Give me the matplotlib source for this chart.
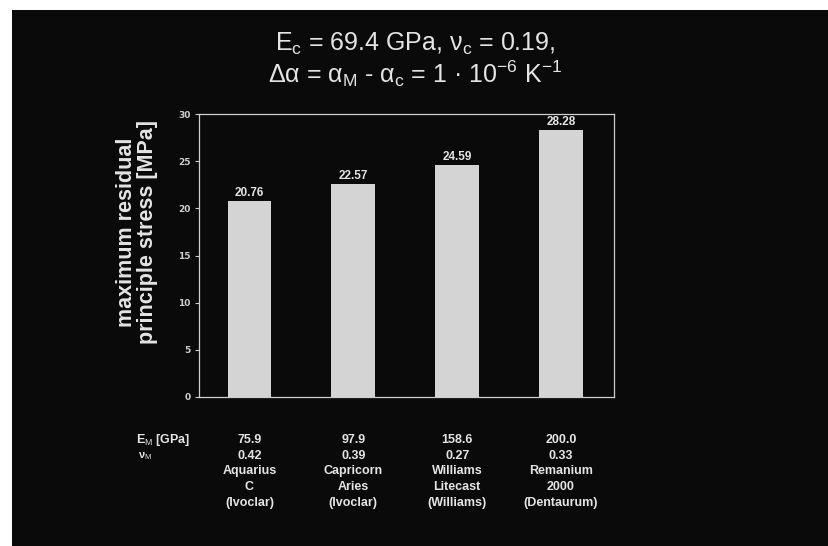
import numpy as np
import matplotlib
matplotlib.use('Agg')
import matplotlib.pyplot as plt
from matplotlib.patches import Rectangle

plt.rcParams['mathtext.fontset'] = 'custom'
plt.rcParams['mathtext.rm'] = 'Liberation Sans'
plt.rcParams['mathtext.it'] = 'Liberation Sans:italic'
plt.rcParams['mathtext.bf'] = 'Liberation Sans:bold'

# Data
alloys = ['Aquarius\nC\n(Ivoclar)', 'Capricorn\nAries\n(Ivoclar)',
          'Williams\nLitecast\n(Williams)', 'Remanium\n2000\n(Dentaurum)']
E_M = ['75.9', '97.9', '158.6', '200.0']
nu_M = ['0.42', '0.39', '0.27', '0.33']
stress = [20.76, 22.57, 24.59, 28.28]
yticks = [0, 5, 10, 15, 20, 25, 30]

bg = '#0a0a0a'
fg = '#e4e4e4'
narrow = ['Liberation Sans Narrow', 'Liberation Sans', 'DejaVu Sans']

fig = plt.figure(figsize=(8.29, 5.46), dpi=100, facecolor='white')
# black slide with thin white margin on the left and top
fig.patches.append(Rectangle((12/829, 0), 1, 1 - 10/546, transform=fig.transFigure,
                             facecolor=bg, edgecolor='none', zorder=-5))

ax = fig.add_axes([199/829, 1 - 397/546, 415/829, 283/546])
ax.set_facecolor(bg)
x = np.arange(len(stress))
ax.bar(x, stress, width=0.42, color='#d4d4d4', edgecolor='none')
for xi, v in zip(x, stress):
    ax.text(xi, v + 0.2, f'{v:.2f}', ha='center', va='bottom', color=fg,
            fontsize=8.5, fontweight='bold', family=narrow)

ax.set_xlim(-0.485, 3.51)
ax.set_ylim(0, 30)
ax.set_xticks([])
ax.set_yticks(yticks)
ax.set_yticklabels([str(t) for t in yticks], fontsize=6.5, fontweight='bold', color='#cfcfcf')
ax.tick_params(axis='y', direction='out', length=3, width=0.8, color='#cfcfcf', pad=3)
for s in ax.spines.values():
    s.set_color('#cfcfcf')
    s.set_linewidth(0.9)

# y label, placed by hand as in the slide
fig.text(137/829, 1 - 232/546, 'maximum residual\nprinciple stress [MPa]', rotation=90,
         ha='center', va='center', fontsize=15.5, fontweight='bold', color=fg,
         family=narrow, linespacing=1.05)

# Title
fig.text(415/829, 1 - 44/546, r'E$_{\rm c}$ = 69.4 GPa, ν$_{\rm c}$ = 0.19,', ha='center', va='center',
         fontsize=18, color=fg, family='Liberation Sans')
fig.text(415/829, 1 - 74/546, r'Δα = α$_{\rm M}$ - α$_{\rm c}$ = 1 · 10$^{-6}$ K$^{-1}$', ha='center',
         va='center', fontsize=18, color=fg, family='Liberation Sans')

# Material table under the bars
row_y = [440, 456, 472, 488, 504]
fig.text(136/829, 1 - row_y[0]/546, r'E$_{\rm M}$ [GPa]', ha='left', va='center', fontsize=9,
         fontweight='bold', color=fg, family=narrow)
fig.text(138/829, 1 - row_y[1]/546, r'ν$_{\rm M}$', ha='left', va='center', fontsize=8,
         fontweight='bold', color=fg, family=narrow)
for xi, e, n, name in zip(x, E_M, nu_M, alloys):
    xf = ax.transData.transform((xi, 0))[0] / fig.bbox.width
    fig.text(xf, 1 - row_y[0]/546, e, ha='center', va='center', fontsize=9,
             fontweight='bold', color=fg, family=narrow)
    fig.text(xf, 1 - row_y[1]/546, n, ha='center', va='center', fontsize=9,
             fontweight='bold', color=fg, family=narrow)
    fig.text(xf, 1 - (row_y[2] - 7)/546, name, ha='center', va='top', fontsize=9,
             fontweight='bold', color=fg, family=narrow, linespacing=1.45)

fig.savefig('out.png', dpi=100, facecolor=fig.get_facecolor())
